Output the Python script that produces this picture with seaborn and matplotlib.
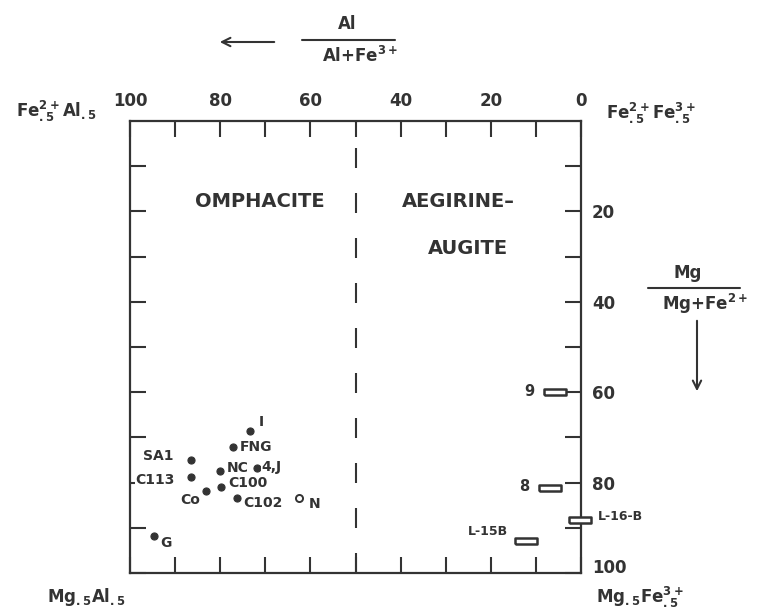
import numpy as np
import pandas as pd
import matplotlib
matplotlib.use("Agg")
import matplotlib.pyplot as plt
from matplotlib.lines import Line2D
from matplotlib.patches import FancyArrowPatch
import seaborn as sns

# sample points (x = Al/(Al+Fe3+) *100, y = Mg/(Mg+Fe2+) *100)
pt_labels = ["I", "FNG", "SA1", "C113", "NC", "4,J", "C100", "Co", "C102", "N", "G"]
pt_x = [73.4, 77.2, 86.5, 86.5, 80.0, 71.9, 79.9, 83.1, 76.2, 62.5, 94.7]
pt_y = [68.5, 72.2, 75.0, 78.7, 77.4, 76.8, 81.0, 81.8, 83.3, 83.5, 91.8]
pt_filled = [True, True, True, True, True, True, True, True, True, False, True]

# ranges shown as boxes
box_labels = ["9", "8", "L-16-B", "L-15B"]
box_x = [5.8, 6.8, 0.2, 12.3]
box_y = [59.9, 81.3, 88.2, 93.0]

top_ticks = [100, 80, 60, 40, 20, 0]
right_ticks = [20, 40, 60, 80, 100]

# label offsets in points (dx, dy, ha)
pt_offsets = {
    "I": (6, 6.5, "left"), "FNG": (5, 0, "left"), "SA1": (-12.5, 3, "right"),
    "C113": (-11.5, -2, "right"), "NC": (4.5, 2.2, "left"), "4,J": (3.5, 0.5, "left"),
    "C100": (5.3, 3.2, "left"), "Co": (-4.3, -6.7, "right"), "C102": (4, -4, "left"),
    "N": (7, -4, "left"), "G": (4.3, -5, "left"),
}
box_offsets = {
    "9": (-14.4, 0, "right"), "8": (-15, 1.4, "right"),
    "L-16-B": (13, 2.5, "left"), "L-15B": (-12.7, 7, "right"),
}

ink = "#333333"

sns.set_theme(style="white")
plt.rcParams["font.family"] = ["DejaVu Sans"]
plt.rcParams["font.weight"] = "bold"
plt.rcParams["mathtext.fontset"] = "dejavusans"
plt.rcParams["mathtext.default"] = "bf"
plt.rcParams["text.color"] = ink

fig = plt.figure(figsize=(7.67, 6.16), dpi=100)
ax = fig.add_axes([130 / 767, 1 - 573 / 616, 451 / 767, 452 / 616])

pts = pd.DataFrame({"label": pt_labels, "x": pt_x, "y": pt_y, "filled": pt_filled})
boxes = pd.DataFrame({"label": box_labels, "x": box_x, "y": box_y})

sns.scatterplot(data=pts[pts.filled], x="x", y="y", ax=ax, s=26, color=ink,
                edgecolor=ink, linewidth=0.8, zorder=3)
sns.scatterplot(data=pts[~pts.filled], x="x", y="y", ax=ax, s=26, facecolor="white",
                edgecolor=ink, linewidth=1.4, zorder=3)

rect = [(-1, -0.3), (1, -0.3), (1, 0.3), (-1, 0.3), (-1, -0.3)]
sns.scatterplot(data=boxes, x="x", y="y", ax=ax, marker=rect, s=260,
                facecolor="white", edgecolor=ink, linewidth=1.8, zorder=4, clip_on=False)

for _, r in pts.iterrows():
    dx, dy, ha = pt_offsets[r["label"]]
    ax.annotate(r["label"], (r["x"], r["y"]), xytext=(dx, dy), textcoords="offset points",
                ha=ha, va="center", fontsize=10, fontweight="bold", color=ink, zorder=5,
                bbox=dict(facecolor="white", edgecolor="none", pad=0.3))
for _, r in boxes.iterrows():
    dx, dy, ha = box_offsets[r["label"]]
    fs = 9 if r["label"].startswith("L") else 10.5
    ax.annotate(r["label"], (r["x"], r["y"]), xytext=(dx, dy), textcoords="offset points",
                ha=ha, va="center", fontsize=fs, fontweight="bold", color=ink,
                annotation_clip=False)

# divider between fields
ax.axvline(50, color=ink, lw=1.5, linestyle=(0, (9.6, 12)), zorder=2)

ax.text(71.2, 17.9, "OMPHACITE", ha="center", va="center", fontsize=14, fontweight="bold")
ax.text(27.3, 17.7, "AEGIRINE\u2013", ha="center", va="center", fontsize=14, fontweight="bold")
ax.text(25.1, 28.1, "AUGITE", ha="center", va="center", fontsize=14, fontweight="bold")

ax.set_xlim(100, 0)
ax.set_ylim(100, 0)
ax.set_xticks(top_ticks)
ax.set_xticks([90, 70, 50, 30, 10], minor=True)
ax.set_yticks(right_ticks)
ax.set_yticks([10, 30, 50, 70, 90], minor=True)
ax.set_xticklabels([str(t) for t in top_ticks])
ax.set_yticklabels([str(t) for t in right_ticks])
ax.tick_params(axis="both", which="both", direction="in", length=11.5, width=1.5,
               color=ink, top=True, bottom=True, left=True, right=True,
               labeltop=True, labelbottom=False, labelleft=False, labelright=True,
               labelsize=12, labelcolor=ink, pad=8)
for t in ax.get_xticklabels() + ax.get_yticklabels():
    t.set_fontweight("bold")
ax.get_yticklabels()[-1].set_verticalalignment("baseline")
ax.set_xlabel("")
ax.set_ylabel("")
for sp in ax.spines.values():
    sp.set_visible(True)
    sp.set_linewidth(1.6)
    sp.set_color(ink)

# corner end-members
fig.text(56 / 767, 1 - 111 / 616, r"Fe$^{2+}_{.5}$Al$_{.5}$", ha="center", va="center",
         fontsize=12, fontweight="bold")
fig.text(651 / 767, 1 - 113 / 616, r"Fe$^{2+}_{.5}$Fe$^{3+}_{.5}$", ha="center", va="center",
         fontsize=12, fontweight="bold")
fig.text(86 / 767, 1 - 597 / 616, r"Mg$_{.5}$Al$_{.5}$", ha="center", va="center",
         fontsize=12, fontweight="bold")
fig.text(640 / 767, 1 - 597 / 616, r"Mg$_{.5}$Fe$^{3+}_{.5}$", ha="center", va="center",
         fontsize=12, fontweight="bold")

# axis titles as fractions with direction arrows
fig.text(347 / 767, 1 - 24 / 616, "Al", ha="center", va="center", fontsize=12, fontweight="bold")
fig.add_artist(Line2D([302 / 767, 395 / 767], [1 - 40 / 616, 1 - 40 / 616], color=ink, lw=1.5))
fig.text(360 / 767, 1 - 56 / 616, r"Al+Fe$^{3+}$", ha="center", va="center", fontsize=12,
         fontweight="bold")
fig.add_artist(FancyArrowPatch((277 / 767, 1 - 42 / 616), (217 / 767, 1 - 42 / 616),
               transform=fig.transFigure, arrowstyle="->,head_length=6,head_width=3",
               color=ink, lw=1.5))

fig.text(688 / 767, 1 - 273 / 616, "Mg", ha="center", va="center", fontsize=12, fontweight="bold")
fig.add_artist(Line2D([648 / 767, 740 / 767], [1 - 288 / 616, 1 - 288 / 616], color=ink, lw=1.5))
fig.text(705 / 767, 1 - 304 / 616, r"Mg+Fe$^{2+}$", ha="center", va="center", fontsize=12,
         fontweight="bold")
fig.add_artist(FancyArrowPatch((697 / 767, 1 - 318 / 616), (697 / 767, 1 - 394 / 616),
               transform=fig.transFigure, arrowstyle="->,head_length=6,head_width=3",
               color=ink, lw=1.5))

fig.savefig("out.png", dpi=100, facecolor="white")
